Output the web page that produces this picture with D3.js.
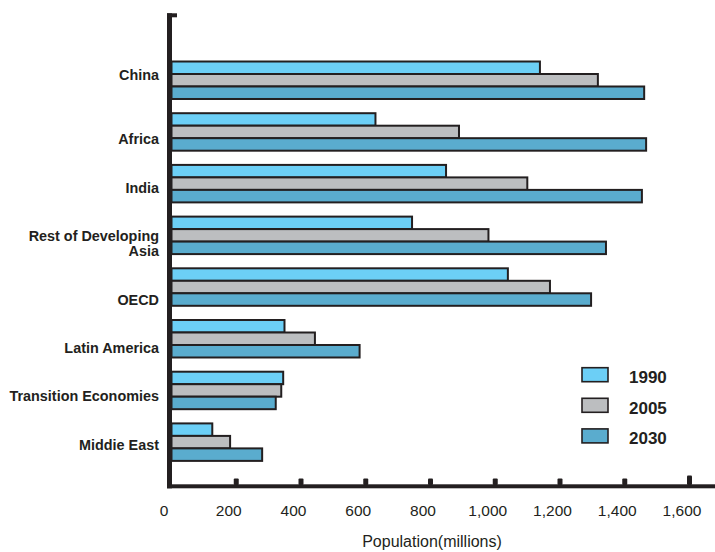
<!DOCTYPE html>
<html>
<head>
<meta charset="utf-8">
<script src="https://cdn.jsdelivr.net/npm/d3@7"></script>
<style>
  html, body { margin: 0; padding: 0; background: #ffffff; }
  svg { display: block; font-family: "Liberation Sans", Arial, Helvetica, sans-serif; }
</style>
</head>
<body>
<svg id="chart" width="715" height="552"></svg>
<script>
// ---- data ----
const categories = ["China", "Africa", "India", "Rest of Developing\nAsia", "OECD",
                    "Latin America", "Transition Economies", "Middie East"];
const years = ["1990", "2005", "2030"];
const values1990 = [1138, 630, 848, 743, 1039, 349, 345, 126];
const values2005 = [1317, 888, 1099, 979, 1169, 443, 339, 181];
const values2030 = [1460, 1466, 1453, 1342, 1296, 581, 322, 280];
const xTicks = [0, 200, 400, 600, 800, 1000, 1200, 1400, 1600];
const xTitle = "Population(millions)";

// ---- layout / style (not data) ----
const colors = {"1990": "#6ccff6", "2005": "#bcbec0", "2030": "#5aacce"};
const ink = "#231f20";
const labelNudge = [-5.5, 7, 4, 8, 12.5, 9.3, 6, 2.6];

const seriesValues = {"1990": values1990, "2005": values2005, "2030": values2030};
const rows = categories.map((c, i) => ({
  cat: c,
  vals: years.map(y => ({year: y, value: seriesValues[y][i]}))
}));

const svg = d3.select("#chart");

const x = d3.scaleLinear().domain([0, 1600]).range([171.5, 689.5]);
const y = d3.scaleBand().domain(categories).range([54.4, 468])
  .paddingInner(0.275).paddingOuter(0.1375);
const yInner = d3.scaleBand().domain(years).range([0, y.bandwidth()]).padding(0);

// bars
const groups = svg.append("g").selectAll("g.grp").data(rows).join("g")
  .attr("class", "grp")
  .attr("transform", d => `translate(0,${y(d.cat)})`);

groups.selectAll("rect").data(d => d.vals).join("rect")
  .attr("x", x(0))
  .attr("y", d => yInner(d.year))
  .attr("width", d => x(d.value) - x(0))
  .attr("height", yInner.bandwidth())
  .attr("fill", d => colors[d.year])
  .attr("stroke", ink)
  .attr("stroke-width", 2);

// category labels
svg.append("g").selectAll("text").data(rows).join("text")
  .attr("text-anchor", "end")
  .attr("font-size", 14.4)
  .attr("font-weight", "bold")
  .attr("fill", ink)
  .each(function(d, i) {
    const lines = d.cat.split("\n");
    const cy = y(d.cat) + y.bandwidth() / 2 + labelNudge[i];
    const t = d3.select(this);
    lines.forEach((ln, k) => {
      t.append("tspan")
        .attr("x", 159)
        .attr("y", cy + 5 + (k - (lines.length - 1) / 2) * 15)
        .text(ln);
    });
  });

// y axis line with top cap
svg.append("rect").attr("x", 167).attr("y", 13.3).attr("width", 5).attr("height", 475).attr("fill", ink);
svg.append("rect").attr("x", 167).attr("y", 13.3).attr("width", 10).attr("height", 4).attr("fill", ink);

// x axis (labels via d3 axis)
const xAxis = d3.axisBottom(x).tickValues(xTicks).tickFormat(d3.format(",")).tickSize(0).tickPadding(0);
const gx = svg.append("g").attr("transform", "translate(0,505)").call(xAxis);
gx.select(".domain").remove();
gx.selectAll("text")
  .attr("font-family", "'Liberation Sans', Arial, sans-serif")
  .attr("font-size", 15.5)
  .attr("fill", ink)
  .attr("dx", -8)
  .attr("dy", "0.71em");

// thick axis line and tick marks
svg.append("rect").attr("x", 167).attr("y", 484.3).attr("width", 548).attr("height", 4).attr("fill", ink);
svg.append("g").selectAll("rect").data(xTicks.filter(v => v > 0)).join("rect")
  .attr("x", d => x(d) - 2.5)
  .attr("y", d => d === 1600 ? 475.5 : 478.5)
  .attr("width", 5)
  .attr("height", d => d === 1600 ? 9.5 : 6.5)
  .attr("rx", 1)
  .attr("fill", ink);

// axis title
svg.append("text")
  .attr("x", 432).attr("y", 547)
  .attr("text-anchor", "middle")
  .attr("font-size", 16)
  .attr("fill", ink)
  .text(xTitle);

// legend
const legend = svg.append("g").selectAll("g").data(years).join("g")
  .attr("transform", (d, i) => `translate(582,${367.7 + i * 30.6})`);
legend.append("rect")
  .attr("width", 26).attr("height", 14)
  .attr("fill", d => colors[d])
  .attr("stroke", ink).attr("stroke-width", 1.6);
legend.append("text")
  .attr("x", 47).attr("y", 15.6)
  .attr("font-size", 17)
  .attr("font-weight", "bold")
  .attr("fill", ink)
  .text(d => d);
</script>
</body>
</html>
